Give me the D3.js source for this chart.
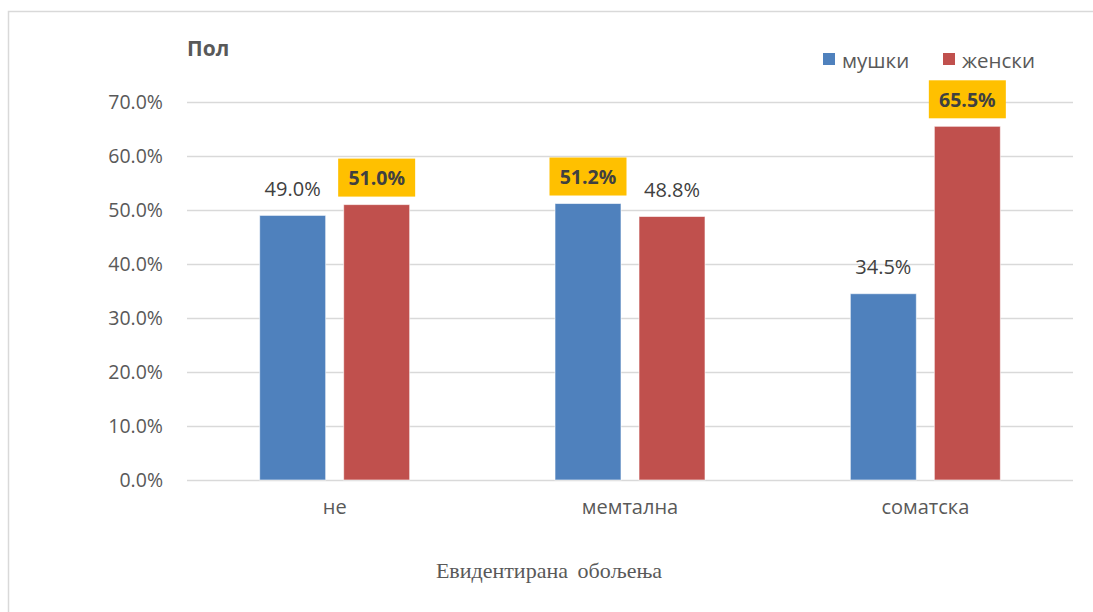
<!DOCTYPE html>
<html><head><meta charset="utf-8">
<script src="https://cdn.jsdelivr.net/npm/d3@7"></script>
<style>body{margin:0;background:#fff;}svg{display:block;}</style>
</head><body>
<svg id="c" width="1093" height="612"></svg>
<script>
const categories = ["не", "мемтална", "соматска"];
const seriesNames = ["мушки", "женски"];
const male = [49.0, 51.2, 34.5];
const female = [51.0, 48.8, 65.5];
const highlightMale = [false, true, false];
const highlightFemale = [true, false, true];
const yTicks = [0, 10, 20, 30, 40, 50, 60, 70];
const colors = ["#4f81bd", "#c0504d"];

const svg = d3.select("#c");
const m = {left: 187, right: 1073, top: 102, bottom: 480};
const FONT = "'Open Sans', sans-serif";

// border
svg.append("rect").attr("x", 8.5).attr("y", 11.5).attr("width", 1100).attr("height", 700)
  .attr("fill", "none").attr("stroke", "#d9d9d9").attr("stroke-width", 1.5);

const x0 = d3.scaleBand().domain(categories).range([m.left, m.right]);
const y = d3.scaleLinear().domain([0, 70]).range([m.bottom, m.top]);
const barW = 66, gap = 18;

// grid + y labels
const gy = d3.axisLeft(y).tickValues(yTicks).tickSize(-(m.right - m.left)).tickFormat(d => d.toFixed(1) + "%").tickPadding(24);
const g = svg.append("g").attr("transform", `translate(${m.left},0)`).call(gy);
g.select(".domain").remove();
g.selectAll(".tick line").attr("stroke", "#d9d9d9").attr("stroke-width", 1.3);
g.selectAll(".tick text").attr("fill", "#595959").style("font-family", FONT).style("font-size", "19.5px");

// x labels
const gx = d3.axisBottom(x0).tickSize(0).tickPadding(20);
const xg = svg.append("g").attr("transform", `translate(0,${m.bottom})`).call(gx);
xg.select(".domain").remove();
xg.selectAll(".tick text").attr("fill", "#595959").style("font-family", FONT).style("font-size", "20px");

const data = categories.map((c, i) => [
  {c, v: male[i], s: 0, hl: highlightMale[i]},
  {c, v: female[i], s: 1, hl: highlightFemale[i]}
]).flat();

const bx = d => x0(d.c) + x0.bandwidth() / 2 + (d.s === 0 ? -gap / 2 - barW : gap / 2);

svg.selectAll("rect.bar").data(data).enter().append("rect").attr("class", "bar")
  .attr("x", bx).attr("width", barW)
  .attr("y", d => y(d.v)).attr("height", d => y(0) - y(d.v))
  .attr("fill", d => colors[d.s]).attr("stroke", "rgba(255,255,255,0.6)").attr("stroke-width", 1);

// labels
const lab = svg.selectAll("g.lab").data(data).enter().append("g").attr("class", "lab");
lab.filter(d => d.hl).append("rect")
  .attr("x", d => bx(d) + barW / 2 - 38.5).attr("width", 77)
  .attr("y", d => y(d.v) - 46).attr("height", 38).attr("fill", "#ffc000");
lab.append("text")
  .attr("x", d => bx(d) + barW / 2)
  .attr("y", d => y(d.v) - 27)
  .attr("text-anchor", "middle").attr("dominant-baseline", "central")
  .attr("fill", "#404040")
  .style("font-family", FONT)
  .style("font-size", d => d.hl ? "19.5px" : "20px")
  .style("font-weight", d => d.hl ? "bold" : "normal")
  .text(d => d.v.toFixed(1) + "%");

// title
svg.append("text").attr("x", 187).attr("y", 56).text("Пол")
  .attr("fill", "#595959").style("font-family", FONT)
  .style("font-size", "21px").style("font-weight", "bold");

// legend
const legX = [823, 943];
seriesNames.forEach((n, i) => {
  svg.append("rect").attr("x", legX[i]).attr("y", 53).attr("width", 12).attr("height", 12).attr("fill", colors[i]);
  svg.append("text").attr("x", legX[i] + 19).attr("y", 60).attr("dominant-baseline", "central")
    .attr("fill", "#595959").style("font-family", FONT).style("font-size", "20.5px").text(n);
});

// x axis title
svg.append("text").attr("x", 549).attr("y", 578).attr("text-anchor", "middle")
  .attr("fill", "#595959").style("font-family", "'Liberation Serif', serif").style("font-size", "22px")
  .style("word-spacing", "4px")
  .text("Евидентирана обољења");
</script>
</body></html>
